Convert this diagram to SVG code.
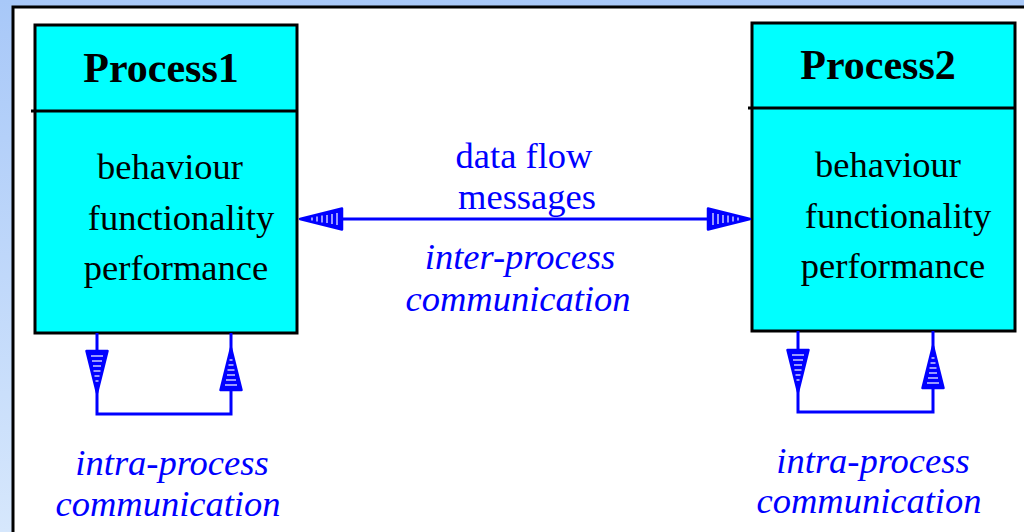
<svg xmlns="http://www.w3.org/2000/svg" width="1024" height="532" viewBox="0 0 1024 532">
<defs>
<linearGradient id="bg" x1="0" y1="0" x2="0" y2="1">
<stop offset="0" stop-color="#a8c8f8"/>
<stop offset="1" stop-color="#d6e7fc"/>
</linearGradient>
<g id="head">
<polygon points="0,0 -42,-10.5 -42,10.5" fill="#0000ff" stroke="#0000ff" stroke-width="2.5" stroke-linejoin="round"/>
<g stroke="#ffffff" stroke-width="1.2">
<line x1="-37" y1="-6" x2="-37" y2="6"/>
<line x1="-32" y1="-5" x2="-32" y2="5"/>
<line x1="-27" y1="-4" x2="-27" y2="4"/>
<line x1="-22" y1="-3.5" x2="-22" y2="3.5"/>
<line x1="-17" y1="-2.5" x2="-17" y2="2.5"/>
<line x1="-12" y1="-1.5" x2="-12" y2="1.5"/>
</g>
</g>
</defs>
<style>
.box{fill:#00ffff;stroke:#000;stroke-width:3}
.sep{stroke:#000;stroke-width:3}
.title{font-family:"Liberation Serif","Times New Roman",serif;font-weight:bold;font-size:42px;fill:#000;text-anchor:middle}
.body{font-family:"Liberation Serif","Times New Roman",serif;font-size:36.5px;fill:#000;text-anchor:middle}
.lbl{font-family:"Liberation Serif","Times New Roman",serif;font-size:36.5px;fill:#0000ff;text-anchor:middle}
.it{font-style:italic}
.conn{fill:none;stroke:#0000ff;stroke-width:3}
</style>
<rect x="0" y="0" width="1024" height="532" fill="url(#bg)"/>
<rect x="13" y="7" width="1030" height="540" fill="#ffffff" stroke="#000" stroke-width="3"/>

<g id="process1">
<rect class="box" x="35" y="25" width="262" height="308"/>
<line class="sep" x1="31" y1="111" x2="297" y2="111"/>
<text class="title" x="161" y="82">Process1</text>
<text class="body" x="170" y="179">behaviour</text>
<text class="body" x="181" y="230">functionality</text>
<text class="body" x="176" y="280">performance</text>
</g>

<g id="process2">
<rect class="box" x="752" y="23" width="263" height="308"/>
<line class="sep" x1="748" y1="108" x2="1015" y2="108"/>
<text class="title" x="878" y="79">Process2</text>
<text class="body" x="888" y="177">behaviour</text>
<text class="body" x="898" y="228">functionality</text>
<text class="body" x="893" y="278">performance</text>
</g>

<g id="connectors">
<line class="conn" x1="310" y1="219" x2="740" y2="219"/>
<use href="#head" transform="translate(300,219) rotate(180)"/>
<use href="#head" transform="translate(750,219)"/>
<polyline class="conn" points="97,333 97,414 231,414 231,333"/>
<use href="#head" transform="translate(97,393) rotate(90)"/>
<use href="#head" transform="translate(231,348) rotate(-90)"/>
<polyline class="conn" points="798,331 798,412 933,412 933,331"/>
<use href="#head" transform="translate(798,392) rotate(90)"/>
<use href="#head" transform="translate(933,346) rotate(-90)"/>
</g>

<g id="labels">
<text class="lbl" x="524" y="168">data flow</text>
<text class="lbl" x="527" y="209">messages</text>
<text class="lbl it" x="520" y="269">inter-process</text>
<text class="lbl it" x="518" y="311">communication</text>
<text class="lbl it" x="172" y="475">intra-process</text>
<text class="lbl it" x="168" y="516">communication</text>
<text class="lbl it" x="873" y="473">intra-process</text>
<text class="lbl it" x="869" y="513">communication</text>
</g>
</svg>
